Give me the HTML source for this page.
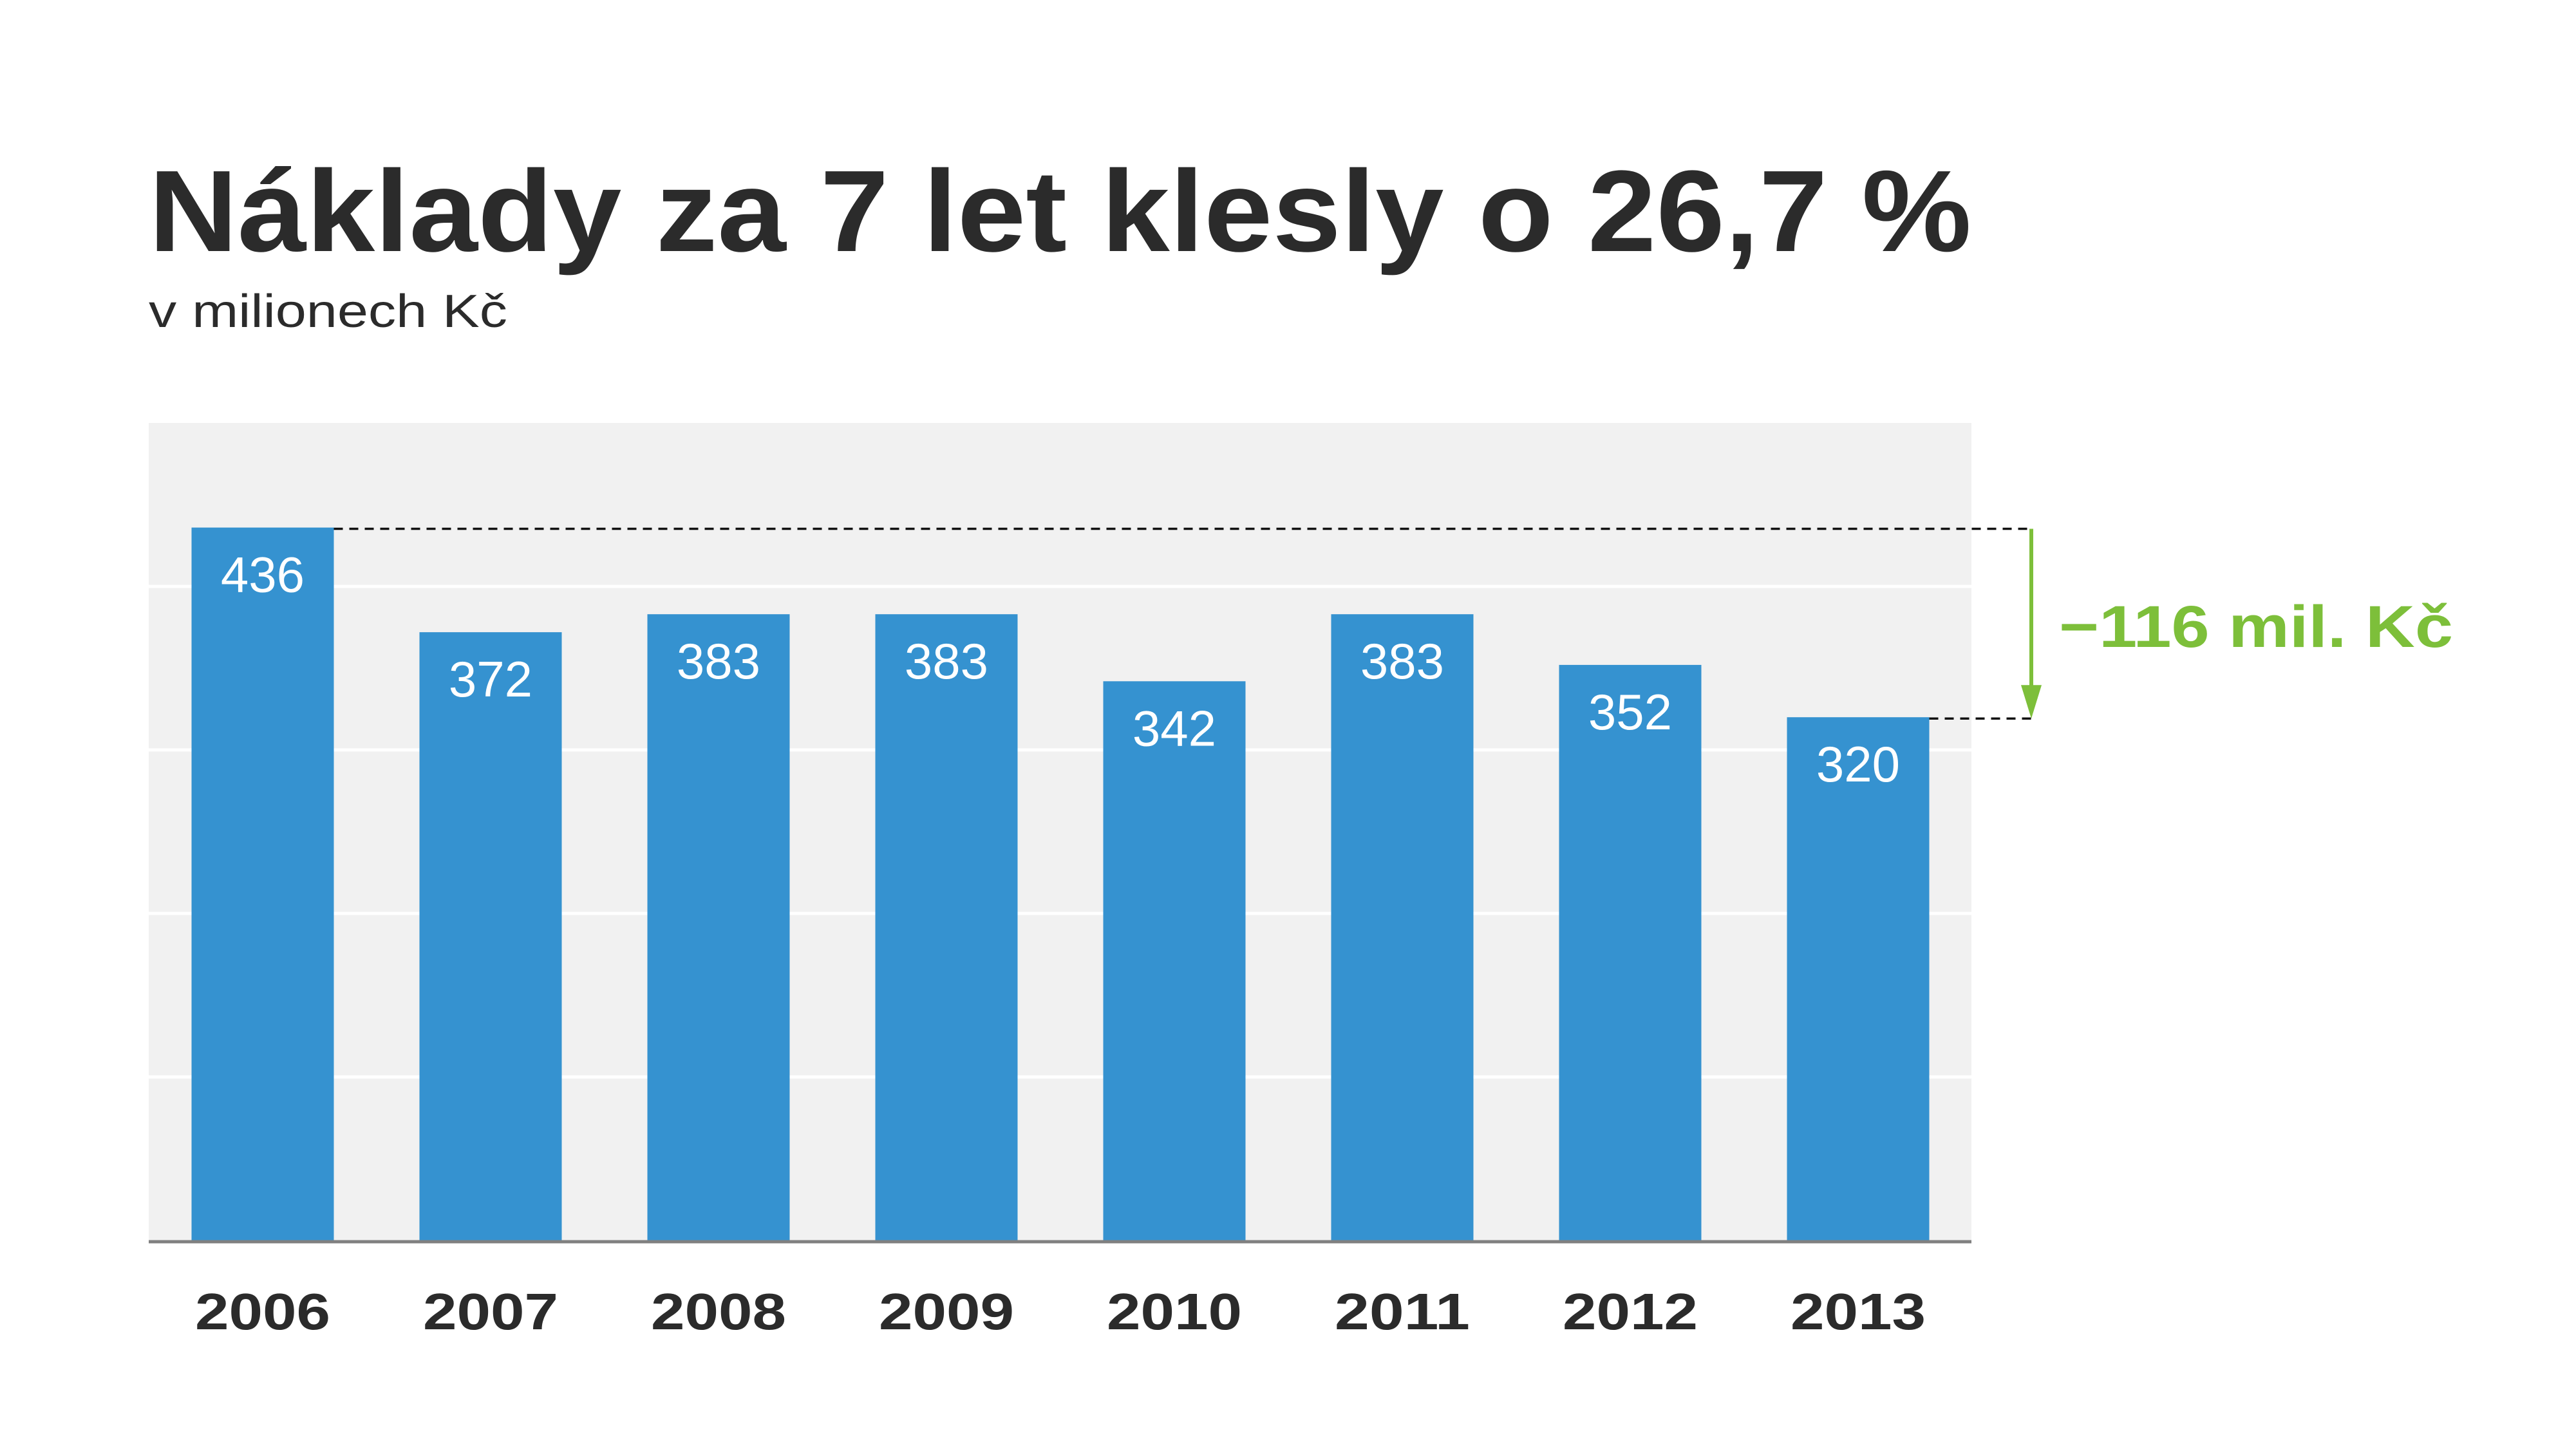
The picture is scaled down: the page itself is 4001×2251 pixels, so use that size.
<!DOCTYPE html>
<html><head><meta charset="utf-8">
<style>html,body{margin:0;padding:0;background:#fff}svg{display:block}</style>
</head><body>
<svg id="chart" width="4001" height="2251" viewBox="0 0 4001 2251" xmlns="http://www.w3.org/2000/svg" font-family="'Liberation Sans', sans-serif">
<text x="231" y="390" font-size="180" font-weight="bold" fill="#2b2b2b" textLength="2831" lengthAdjust="spacingAndGlyphs">Náklady za 7 let klesly o 26,7 %</text>
<text x="231" y="508" font-size="72" fill="#2b2b2b" textLength="557" lengthAdjust="spacingAndGlyphs">v milionech Kč</text>
<g id="plot"></g>
</svg>
<script>
const categories = ["2006","2007","2008","2009","2010","2011","2012","2013"];
const values = [436,372,383,383,342,383,352,320];
const yTicks = [100,200,300,400];
const changeLabel = "−116 mil. Kč";

const NS = "http://www.w3.org/2000/svg";
const plotL = 231, plotR = 3062, plotT = 657, plotB = 1927;
const yMax = 500;
const y = v => plotB - (v / yMax) * (plotB - plotT);
const step = 354, firstC = 408, barW = 221;
const x = i => firstC + i * step;
const g = document.getElementById('plot');
function mk(tag, attrs){ const e = document.createElementNS(NS, tag); for (const k in attrs) e.setAttribute(k, attrs[k]); g.appendChild(e); return e; }

const bg = mk('rect', {x:plotL, y:plotT, width:plotR-plotL, height:plotB-plotT, fill:'#f1f1f1'});


yTicks.forEach(t => {
  const l = mk('line', {x1:plotL, x2:plotR, y1:y(t), y2:y(t), stroke:'#ffffff', 'stroke-width':5});
  
  
});
values.forEach((v, i) => {
  const r = mk('rect', {x:x(i)-barW/2, y:y(v), width:barW, height:plotB-y(v), fill:'#3592d0'});
  
  
  const t = mk('text', {x:x(i), y:y(v)+100, 'text-anchor':'middle', 'font-size':78, fill:'#ffffff'});
  t.textContent = v;
  
  
  const c = mk('text', {x:x(i), y:2065, 'text-anchor':'middle', 'font-size':80, 'font-weight':'bold', fill:'#2b2b2b', textLength:210, lengthAdjust:'spacingAndGlyphs'});
  c.textContent = categories[i];
  
  
});
const axis = mk('line', {x1:plotL, x2:plotR, y1:plotB+2, y2:plotB+2, stroke:'#808080', 'stroke-width':5});



const first = values[0], last = values[values.length-1];
const ax = 3155;
const d1 = mk('line', {x1:x(0)+barW/2, x2:ax, y1:y(first)+2, y2:y(first)+2, stroke:'#111', 'stroke-width':3.5, 'stroke-dasharray':'14 10'});


const li = values.length-1;
const d2 = mk('line', {x1:x(li)+barW/2, x2:ax, y1:y(last)+2, y2:y(last)+2, stroke:'#111', 'stroke-width':3.5, 'stroke-dasharray':'14 10'});


const shaft = mk('line', {x1:ax, x2:ax, y1:y(first)+2, y2:y(last)-40, stroke:'#7dbf3a', 'stroke-width':6});


const head = mk('polygon', {points:`${ax-16},${y(last)-50} ${ax+16},${y(last)-50} ${ax},${y(last)+2}`, fill:'#7dbf3a'});


const cl = mk('text', {x:3198, y:1005, 'font-size':92, 'font-weight':'bold', fill:'#7dbf3a', textLength:612, lengthAdjust:'spacingAndGlyphs'});
cl.textContent = changeLabel;


</script>
</body></html>
